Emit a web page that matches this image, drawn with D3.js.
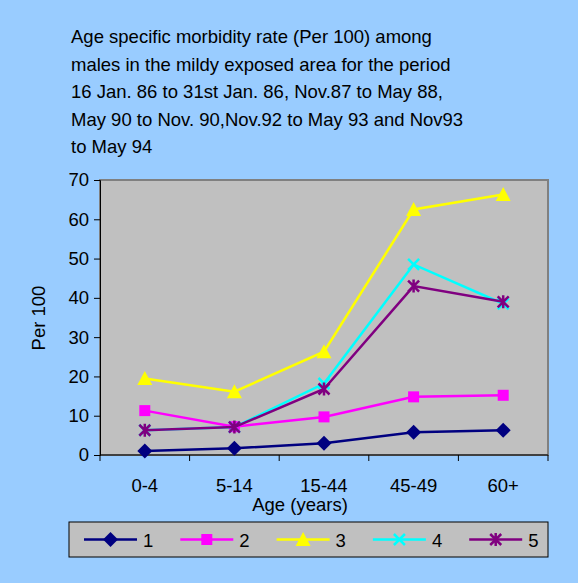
<!DOCTYPE html>
<html>
<head>
<meta charset="utf-8">
<script src="https://cdn.jsdelivr.net/npm/d3@7"></script>
<style>
  body { margin: 0; background: #99ccff; }
  svg text { font-family: "Liberation Sans", Arial, sans-serif; fill: #000; }
</style>
</head>
<body>
<svg width="578" height="583"></svg>
<script>
var categories = ["0-4", "5-14", "15-44", "45-49", "60+"];
var seriesNames = ["1", "2", "3", "4", "5"];
var s1 = [1.0, 1.7, 3.0, 5.8, 6.3];
var s2 = [11.3, 7.2, 9.7, 14.8, 15.2];
var s3 = [19.5, 16.1, 26.3, 62.5, 66.3];
var s4 = [6.3, 7.1, 18.2, 48.5, 38.5];
var s5 = [6.3, 7.1, 16.8, 43.0, 39.0];
var yTicks = [0, 10, 20, 30, 40, 50, 60, 70];
var titleLines = [
  "Age specific morbidity rate (Per 100) among",
  "males in the mildy exposed area for the period",
  "16 Jan. 86 to 31st Jan. 86, Nov.87 to May 88,",
  "May 90 to Nov. 90,Nov.92 to May 93 and Nov93",
  "to May 94"
];

var colors = ["#000080", "#ff00ff", "#ffff00", "#00ffff", "#800080"];
var symbols = ["diamond", "square", "triangle", "x", "star"];
var series = [s1, s2, s3, s4, s5].map(function(v, i) {
  return { name: seriesNames[i], values: v, color: colors[i], symbol: symbols[i] };
});

var svg = d3.select("svg");
var plotLeft = 100, plotRight = 548, plotTop = 180, plotBottom = 455;
var fs = "18.5px";

var x = d3.scaleBand().domain(categories).range([plotLeft, plotRight]);
var y = d3.scaleLinear().domain([0, 70]).range([plotBottom, plotTop]);

// title
svg.append("g").selectAll("text")
  .data(titleLines)
  .enter().append("text")
  .attr("x", 71)
  .attr("y", function(d, i) { return 43 + i * 27.5; })
  .style("font-size", fs)
  .text(function(d) { return d; });

// plot area
svg.append("rect")
  .attr("x", plotLeft).attr("y", plotTop)
  .attr("width", plotRight - plotLeft).attr("height", plotBottom - plotTop)
  .attr("fill", "#c0c0c0")
  .attr("stroke", "#808080")
  .attr("stroke-width", 2);

// y axis
var yAxis = svg.append("g")
  .attr("transform", "translate(" + plotLeft + ",0)")
  .call(d3.axisLeft(y).tickValues(yTicks).tickSize(6).tickPadding(5));
yAxis.select(".domain").attr("stroke", "#000").attr("stroke-width", 1);
yAxis.selectAll("text").style("font-size", fs).attr("fill", "#000");

// x axis: ticks at the band edges
var xAxis = svg.append("g").attr("transform", "translate(0," + plotBottom + ")");
xAxis.append("line")
  .attr("x1", plotLeft).attr("x2", plotRight)
  .attr("stroke", "#000");
xAxis.selectAll("line.tick")
  .data(categories.concat(["end"]))
  .enter().append("line")
  .attr("class", "tick")
  .attr("x1", function(d, i) { return plotLeft + i * x.bandwidth(); })
  .attr("x2", function(d, i) { return plotLeft + i * x.bandwidth(); })
  .attr("y1", 0).attr("y2", 6)
  .attr("stroke", "#000");
xAxis.selectAll("text")
  .data(categories)
  .enter().append("text")
  .attr("x", function(d) { return x(d) + x.bandwidth() / 2; })
  .attr("y", 37)
  .attr("text-anchor", "middle")
  .style("font-size", fs)
  .text(function(d) { return d; });

// axis titles
svg.append("text")
  .attr("x", 300).attr("y", 511)
  .attr("text-anchor", "middle")
  .style("font-size", fs)
  .text("Age (years)");
svg.append("text")
  .attr("transform", "translate(45,318) rotate(-90)")
  .attr("text-anchor", "middle")
  .style("font-size", fs)
  .text("Per 100");

function drawMarker(g, sym, color, size) {
  var h = size / 2;
  if (sym == "diamond") {
    var r = h + 2;
    g.append("path").attr("d", "M0," + -r + "L" + r + ",0L0," + r + "L" + -r + ",0Z")
      .attr("fill", color);
  } else if (sym == "square") {
    g.append("rect").attr("x", -h).attr("y", -h).attr("width", size).attr("height", size)
      .attr("fill", color);
  } else if (sym == "triangle") {
    g.append("path").attr("d", "M0," + (-h - 2) + "L" + (h + 2) + "," + (h + 1) + "L" + (-h - 2) + "," + (h + 1) + "Z")
      .attr("fill", color);
  } else if (sym == "x") {
    g.append("path").attr("d", "M" + -h + "," + -h + "L" + h + "," + h + "M" + h + "," + -h + "L" + -h + "," + h)
      .attr("stroke", color).attr("stroke-width", 2.5);
  } else if (sym == "star") {
    g.append("path").attr("d", "M" + -h + "," + -h + "L" + h + "," + h + "M" + h + "," + -h + "L" + -h + "," + h +
      "M0," + (-h - 1) + "L0," + (h + 1))
      .attr("stroke", color).attr("stroke-width", 2.5);
  }
}

var line = d3.line()
  .x(function(d, i) { return x(categories[i]) + x.bandwidth() / 2; })
  .y(function(d) { return y(d); });

var sg = svg.append("g").selectAll("g")
  .data(series)
  .enter().append("g");

sg.append("path")
  .attr("d", function(d) { return line(d.values); })
  .attr("fill", "none")
  .attr("stroke", function(d) { return d.color; })
  .attr("stroke-width", 2.5);

sg.each(function(s) {
  var g = d3.select(this);
  s.values.forEach(function(v, i) {
    var m = g.append("g")
      .attr("transform", "translate(" + (x(categories[i]) + x.bandwidth() / 2) + "," + y(v) + ")");
    drawMarker(m, s.symbol, s.color, 11);
  });
});

// legend
var legend = svg.append("g");
legend.append("rect")
  .attr("x", 69).attr("y", 522)
  .attr("width", 479).attr("height", 35)
  .attr("fill", "#c0c0c0")
  .attr("stroke", "#000")
  .attr("stroke-width", 1);

var items = legend.selectAll("g.item")
  .data(series)
  .enter().append("g")
  .attr("class", "item")
  .attr("transform", function(d, i) { return "translate(" + (84 + i * 96.3) + ",539.5)"; });
items.append("line")
  .attr("x1", 0).attr("x2", 53)
  .attr("stroke", function(d) { return d.color; })
  .attr("stroke-width", 2.5);
items.each(function(s) {
  var m = d3.select(this).append("g").attr("transform", "translate(26.5,0)");
  drawMarker(m, s.symbol, s.color, 11);
});
items.append("text")
  .attr("x", 59).attr("y", 7)
  .style("font-size", fs)
  .text(function(d) { return d.name; });
</script>
</body>
</html>
